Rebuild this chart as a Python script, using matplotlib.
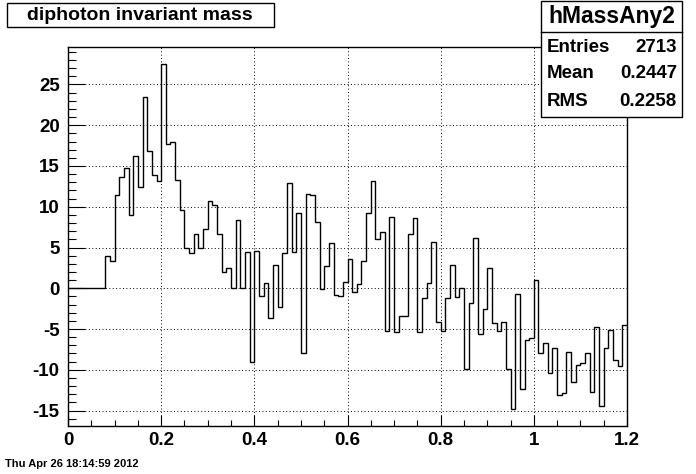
import numpy as np
import matplotlib.pyplot as plt
from matplotlib.patches import Rectangle
from matplotlib.ticker import MultipleLocator

plt.rcParams['font.family'] = ['Liberation Sans', 'DejaVu Sans']
plt.rcParams['font.weight'] = 'bold'
plt.rcParams['axes.unicode_minus'] = False

# histogram data (background subtracted counts, 120 bins from 0 to 1.2)
x_min, x_max, n_bins = 0.0, 1.2, 120
counts = [
    0, 0, 0, 0, 0, 0, 0, 0, 4.0, 3.3,
    11.4, 13.6, 14.7, 9.0, 16.2, 12.4, 23.5, 16.8, 13.9, 13.2,
    27.5, 17.7, 18.0, 13.3, 9.6, 5.0, 4.3, 6.6, 5.0, 7.3,
    10.7, 10.2, 6.6, 2.0, 2.5, 0.0, 8.4, 0.0, 4.5, -9.0,
    4.6, -0.9, 0.7, -3.7, 2.9, -2.3, 4.3, 12.9, 4.5, 9.2,
    -8.0, 11.6, 11.4, 8.1, -0.1, 2.7, 5.5, -0.8, -0.9, 0.8,
    3.6, -0.5, 0.5, 3.3, 9.2, 13.1, 6.0, 6.9, -5.2, 8.8,
    -5.4, -3.4, -3.4, 6.6, 8.6, -5.4, -1.2, 0.7, 5.7, -4.2,
    -5.2, -1.2, 2.9, -1.1, 0.0, -9.9, -1.8, 6.2, -5.6, -2.5,
    2.5, -4.3, -5.2, -4.1, -9.9, -14.8, -0.7, -12.4, -6.3, -6.1,
    1.0, -7.9, -6.7, -10.4, -7.3, -13.1, -12.9, -7.8, -11.5, -9.4,
    -9.2, -8.0, -12.7, -4.7, -14.4, -7.3, -5.1, -8.8, -9.5, -4.5,
]

x_ticks = [0, 0.2, 0.4, 0.6, 0.8, 1.0, 1.2]
x_tick_labels = ['0', '0.2', '0.4', '0.6', '0.8', '1', '1.2']
y_ticks = [-15, -10, -5, 0, 5, 10, 15, 20, 25]

title = 'diphoton invariant mass'
stats_name = 'hMassAny2'
stats_rows = [('Entries', '2713'), ('Mean', '0.2447'), ('RMS', '0.2258')]
date_text = 'Thu Apr 26 18:14:59 2012'

W, H = 696, 474


def fx(px):
    return px / W


def fy(py):
    return 1 - py / H


fig = plt.figure(figsize=(W / 100, H / 100), dpi=100)
fig.patch.set_facecolor('white')

# frame in pixels: left 68, right 627, top 47, bottom 426
ax = fig.add_axes([fx(68), fy(426), (627 - 68) / W, (426 - 47) / H])

edges = np.linspace(x_min, x_max, n_bins + 1)
ax.stairs(counts, edges, color='black', linewidth=1.0, baseline=None, zorder=3)

ax.set_xlim(x_min, x_max)
ax.set_ylim(-16.9, 29.6)

ax.set_xticks(x_ticks)
ax.set_xticklabels(x_tick_labels)
ax.set_yticks(y_ticks)
ax.xaxis.set_minor_locator(MultipleLocator(0.05))
ax.yaxis.set_minor_locator(MultipleLocator(1))

# ROOT style ticks: inside, bottom/left only
ax.tick_params(axis='x', which='major', direction='in', length=8.2, width=0.8,
               labelsize=13.5, pad=4)
ax.tick_params(axis='x', which='minor', direction='in', length=4.1, width=0.8)
ax.tick_params(axis='y', which='major', direction='in', length=12.2, width=0.8,
               labelsize=13.5, pad=6)
ax.tick_params(axis='y', which='minor', direction='in', length=6.1, width=0.8)
for lab in ax.get_xticklabels() + ax.get_yticklabels():
    lab.set_fontweight('bold')

for sp in ax.spines.values():
    sp.set_linewidth(1.0)

# dotted grid
ax.grid(True, which='major', color='black', linestyle=(0, (1, 2.5)), linewidth=0.7)
ax.set_axisbelow(True)

# title box
fig.patches.append(Rectangle((fx(7), fy(27)), fx(274) - fx(7), fy(3) - fy(27),
                             transform=fig.transFigure, facecolor='white',
                             edgecolor='black', linewidth=1.0, zorder=5))
fig.text(fx(140), fy(15), title, ha='center', va='center', fontsize=14,
         fontweight='bold', zorder=6)

# stats box
fig.patches.append(Rectangle((fx(541), fy(117)), fx(682) - fx(541), fy(0.5) - fy(117),
                             transform=fig.transFigure, facecolor='white',
                             edgecolor='black', linewidth=1.0, zorder=5))
fig.add_artist(plt.Line2D([fx(541), fx(682)], [fy(32), fy(32)],
                          transform=fig.transFigure, color='black', linewidth=1.0, zorder=6))
fig.text(fx(612), fy(16), stats_name, ha='center', va='center', fontsize=16.5,
         fontweight='bold', zorder=6)
for i, (name, val) in enumerate(stats_rows):
    y = 47 + i * 27
    fig.text(fx(547), fy(y), name, ha='left', va='center', fontsize=13.5,
             fontweight='bold', zorder=6)
    fig.text(fx(677), fy(y), val, ha='right', va='center', fontsize=13.5,
             fontweight='bold', zorder=6)

# date stamp
fig.text(fx(5), fy(464), date_text, ha='left', va='center', fontsize=8,
         fontweight='bold')

fig.savefig('out.png', dpi=100)
plt.close()
